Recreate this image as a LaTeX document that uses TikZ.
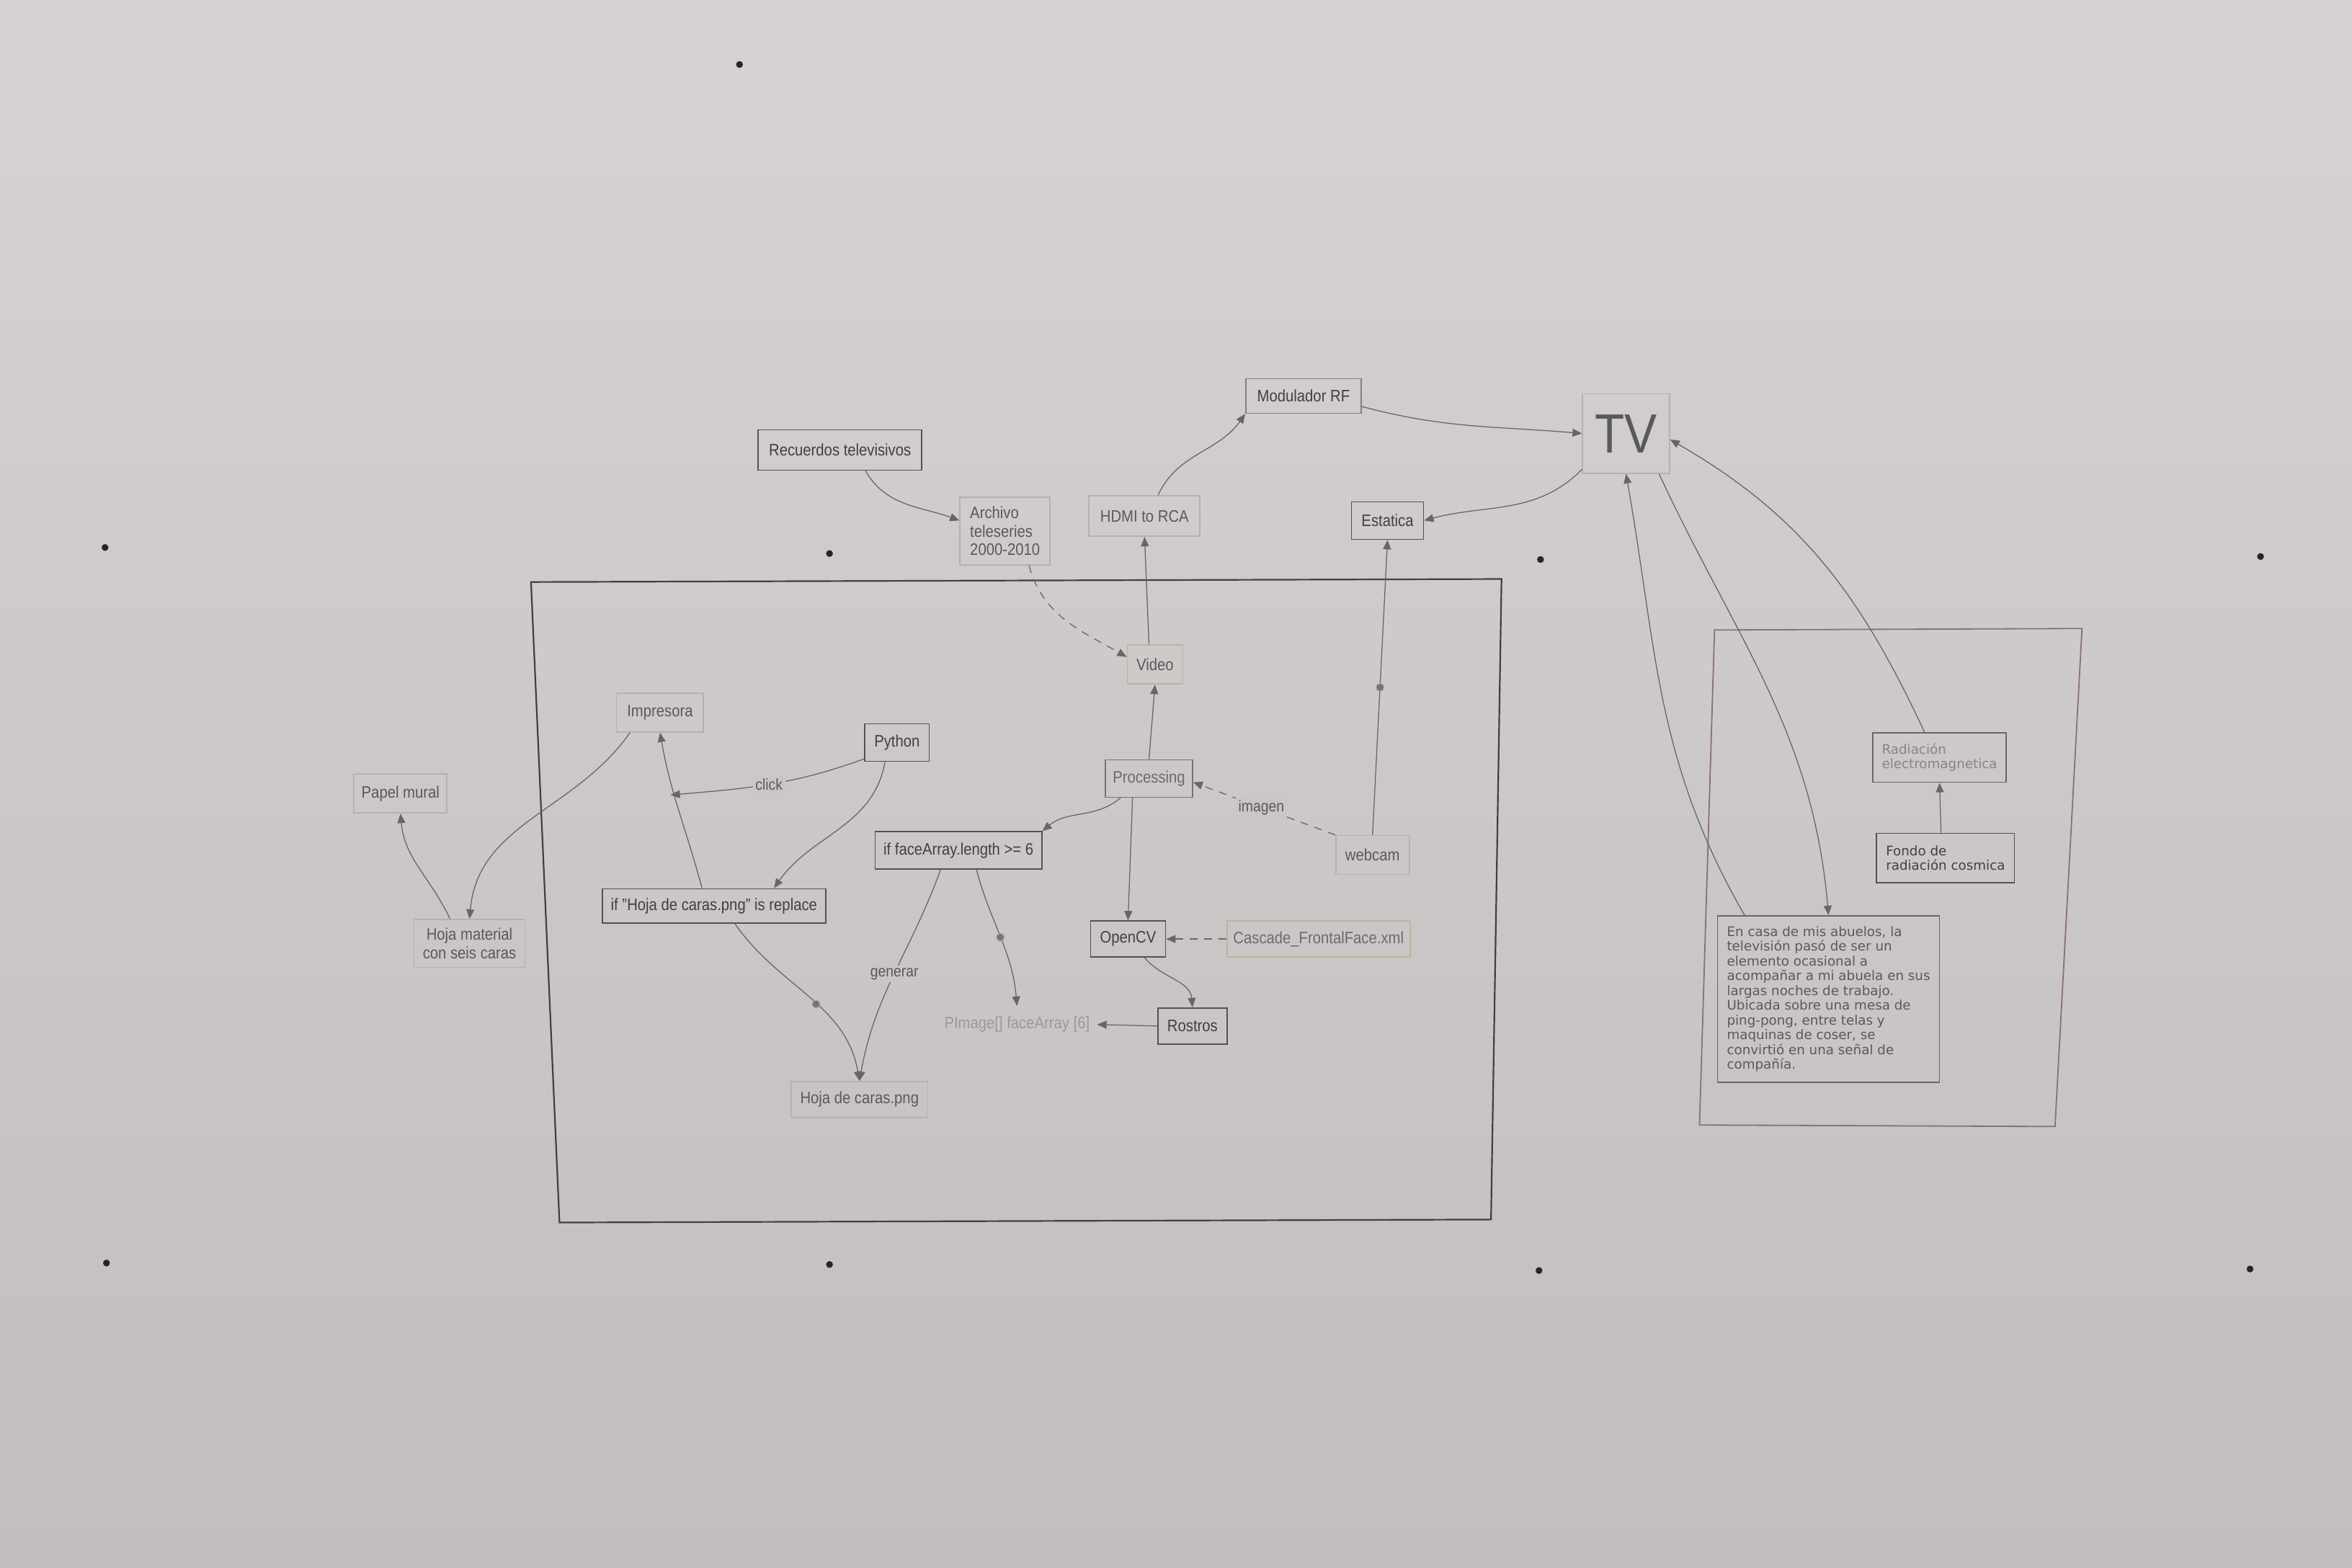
\documentclass[tikz,border=0pt]{standalone}
\usepackage{fontspec}
\setmainfont{Liberation Sans}[FakeStretch=0.88]
\newfontfamily\redonda{DejaVu Sans}
\usetikzlibrary{arrows.meta}
\definecolor{pared}{RGB}{203,198,198}
\definecolor{paredalta}{RGB}{214,211,210}
\definecolor{paredbaja}{RGB}{195,189,190}
\definecolor{marco}{RGB}{140,112,118}
\definecolor{amarillo}{RGB}{190,180,155}

\tikzset{
  caja/.style={draw=black!68, line width=.45pt, text=black!75, inner sep=1pt, align=center, font=\fontsize{6.3}{7}\selectfont},
  clara/.style={caja, draw=black!30, text=black!65},
  redondo/.style={font=\redonda\fontsize{5}{5.6}\selectfont, align=left},
  flecha/.style={draw=black!60, line width=.35pt, -{Triangle[length=3.6pt,width=3pt]}},
  rayas/.style={flecha, dash pattern=on 3pt off 2.5pt},
  etiqueta/.style={fill=pared, inner sep=1pt, text=black!65, font=\fontsize{6}{7}\selectfont},
  punto/.style={circle, draw=black!35, fill=black!55, inner sep=0pt, minimum size=3pt}
}

\begin{document}
\begin{tikzpicture}[x=0.02cm, y=0.02cm] % pared con el diagrama
        \useasboundingbox (0,0) rectangle (1568,-1045);
        \shade[top color=paredalta, bottom color=paredbaja] (0,0) rectangle (1568,-1045);
        \foreach \p in {(70,-365),(553,-369),(1027,-373),(1507,-371),(71,-842),(553,-843),(1026,-847),(1500,-846),(493,-43)}
                \fill[black!85] \p circle (1.3pt);
        \draw[black!75, line width=.6pt] (354,-388) -- (1001,-386) -- (994,-813) -- (373,-815) -- cycle;
        \draw[marco, line width=.5pt] (1143,-420) -- (1388,-419) -- (1370,-751) -- (1133,-750) -- cycle;

        \node[caja, minimum width=2.18cm, minimum height=.54cm] (rec) at (560,-300) {Recuerdos televisivos};
        \node[clara, align=left, minimum width=1.2cm, minimum height=.9cm] (archivo) at (670,-354) {Archivo\\teleseries\\2000-2010};
        \node[clara, minimum width=1.48cm, minimum height=.54cm] (hdmi) at (763,-344) {HDMI to RCA};
        \node[caja, draw=black!50, minimum width=1.54cm, minimum height=.46cm] (modulador) at (869,-264) {Modulador RF};
        \node[clara, text=black!65, font=\fontsize{21}{21}\selectfont, minimum width=1.16cm, minimum height=1.06cm] (tv) at (1084,-289) {TV};
        \node[caja, minimum width=.96cm, minimum height=.5cm] (estatica) at (925,-347) {Estatica};
        \node[clara, draw=amarillo, minimum width=.74cm, minimum height=.52cm] (video) at (770,-443) {Video};
        \node[clara, minimum width=1.16cm, minimum height=.52cm] (impresora) at (440,-475) {Impresora};
        \node[caja, minimum width=.86cm, minimum height=.5cm] (python) at (598,-495) {Python};
        \node[clara, minimum width=1.24cm, minimum height=.52cm] (papel) at (267,-529) {Papel mural};
        \node[caja, draw=black!55, text=black!58, minimum width=1.16cm, minimum height=.5cm] (processing) at (766,-519) {Processing};
        \node[caja, minimum width=2.22cm, minimum height=.5cm] (iffa) at (639,-567) {if faceArray.length >= 6};
        \node[clara, minimum width=.98cm, minimum height=.52cm] (webcam) at (915,-570) {webcam};
        \node[caja, minimum width=2.98cm, minimum height=.46cm] (ifhoja) at (476,-604) {if "Hoja de caras.png" is replace};
        \node[clara, minimum width=1.48cm, minimum height=.64cm] (hojamat) at (313,-629) {Hoja material\\con seis caras};
        \node[caja, minimum width=1cm, minimum height=.48cm] (opencv) at (752,-626) {OpenCV};
        \node[clara, draw=amarillo, text=black!58, minimum width=2.44cm, minimum height=.48cm] (cascade) at (879,-626) {Cascade\_FrontalFace.xml};
        \node[clara, draw=black!22, text=black!40, minimum width=2.12cm, minimum height=.48cm] (pimage) at (678,-683) {PImage[] faceArray [6]};
        \node[caja, minimum width=.92cm, minimum height=.48cm] (rostros) at (795,-684) {Rostros};
        \node[clara, minimum width=1.82cm, minimum height=.48cm] (hojacaras) at (573,-733) {Hoja de caras.png};
        \node[caja, redondo, draw=black!60, text=black!48, minimum width=1.78cm, minimum height=.66cm] (radiacion) at (1293,-505) {Radiación\\electromagnetica};
        \node[caja, redondo, minimum width=1.84cm, minimum height=.66cm] (fondo) at (1297,-572) {Fondo de\\radiación cosmica};
        \node[caja, redondo, draw=black!60, text=black!65, minimum width=2.96cm, minimum height=2.22cm] (casa) at (1219,-666)
                {En casa de mis abuelos, la\\televisión pasó de ser un\\elemento ocasional a\\acompañar a mi abuela en sus\\largas noches de trabajo.\\Ubicada sobre una mesa de\\ping-pong, entre telas y\\maquinas de coser, se\\convirtió en una señal de\\compañía.};

        \draw[flecha] ([xshift=.34cm]rec.south) to[out=-60,in=160] ([yshift=.14cm]archivo.west);
        \draw[rayas] ([xshift=.32cm]archivo.south) to[out=-75,in=150] ([yshift=.1cm]video.west);
        \draw[flecha] (processing.north) -- (video.south);
        \draw[flecha] ([xshift=-.08cm]video.north) -- (hdmi.south);
        \draw[flecha] ([xshift=.18cm]hdmi.north) to[out=65,in=235] (modulador.south west);
        \draw[flecha] ([yshift=-.14cm]modulador.east) to[out=-15,in=175] (tv.west);
        \draw[flecha] ([yshift=-.48cm]tv.west) to[out=225,in=15] (estatica.east);
        \draw[flecha] (webcam.north) -- node[punto]{} (estatica.south);
        \draw[rayas] (webcam.north west) -- node[etiqueta, pos=.52]{imagen} ([yshift=-.05cm]processing.east);
        \coordinate (clic) at (447,-530);
        \draw[flecha] ([yshift=.04cm]python.south west) to[out=200,in=5] node[etiqueta]{click} (clic);
        \draw[flecha] ([xshift=-.16cm]python.south) to[out=-100,in=55] ([xshift=.8cm]ifhoja.north);
        \draw[flecha] ([xshift=-.16cm]ifhoja.north) to[out=105,in=-80] (impresora.south);
        \draw[flecha] ([xshift=-.4cm]impresora.south) to[out=-125,in=85] (hojamat.north);
        \draw[flecha] ([xshift=-.26cm]hojamat.north) to[out=115,in=-85] (papel.south);
        \draw[flecha] ([xshift=-.38cm]processing.south) to[out=-140,in=40] (iffa.north east);
        \draw[flecha] ([xshift=-.22cm]processing.south) -- (opencv.north);
        \draw[flecha] ([xshift=-.24cm]iffa.south) to[out=-110,in=80] node[etiqueta]{generar} (hojacaras.north);
        \draw[flecha] ([xshift=.24cm]iffa.south) to[out=-75,in=95] node[punto, pos=.5]{} (pimage.north);
        \draw[flecha] ([xshift=.28cm]ifhoja.south) to[out=-55,in=100] node[punto, pos=.55]{} (hojacaras.north);
        \draw[rayas] (cascade.west) -- (opencv.east);
        \draw[flecha] ([xshift=.22cm]opencv.south) to[out=-50,in=95] (rostros.north);
        \draw[flecha] (rostros.west) -- (pimage.east);
        \draw[flecha] ([xshift=.44cm]tv.south) to[out=-65,in=95] (casa.north);
        \draw[flecha] ([xshift=-.2cm]radiacion.north) to[out=115,in=-30] ([yshift=-.08cm]tv.east);
        \draw[flecha] ([xshift=-.06cm]fondo.north) -- (radiacion.south);
        \draw[flecha] ([xshift=-1.12cm]casa.north) to[out=120,in=-80] (tv.south);
\end{tikzpicture}
\end{document}
